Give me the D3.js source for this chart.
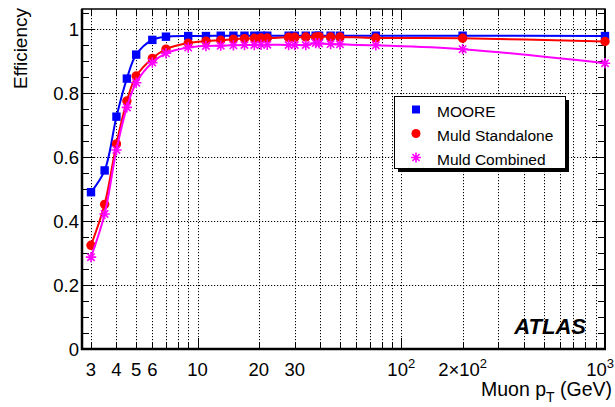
<!DOCTYPE html>
<html><head><meta charset="utf-8">
<script src="https://cdn.jsdelivr.net/npm/d3@7"></script>
<style>body{margin:0;background:#fff;} svg{display:block;font-family:"Liberation Sans",Arial,Helvetica,sans-serif;}</style>
</head><body>
<svg id="c" width="615" height="407"></svg>
<script>
const ptValues = [3, 3.5, 4, 4.5, 5, 6, 7, 9, 11, 13, 15, 17, 19, 20.5, 22, 28, 30, 34, 38, 39.5, 45, 50, 75, 200, 1000];
const mooreEff = [0.490, 0.558, 0.726, 0.845, 0.920, 0.966, 0.976, 0.978, 0.978, 0.979, 0.979, 0.979, 0.979, 0.979, 0.979, 0.979, 0.979, 0.979, 0.979, 0.979, 0.979, 0.979, 0.979, 0.979, 0.978];
const standaloneEff = [0.324, 0.452, 0.641, 0.775, 0.853, 0.908, 0.937, 0.956, 0.962, 0.965, 0.968, 0.970, 0.971, 0.972, 0.972, 0.974, 0.974, 0.975, 0.975, 0.976, 0.975, 0.975, 0.972, 0.971, 0.961];
const combinedEff = [0.287, 0.422, 0.622, 0.755, 0.832, 0.895, 0.924, 0.942, 0.947, 0.948, 0.949, 0.950, 0.950, 0.951, 0.951, 0.950, 0.950, 0.950, 0.956, 0.955, 0.953, 0.952, 0.949, 0.937, 0.893];
const seriesNames = ["MOORE", "Muld Standalone", "Muld Combined"];
const seriesColors = ["#0000ff", "#ff0000", "#ff00ff"];
const seriesMarkers = ["square", "circle", "star"];
const xGridValues = [3,4,5,6,7,8,9,10,20,30,40,50,60,70,80,90,100,200,300,400,500,600,700,800,900,1000];
const xLabelValues = [3,4,5,6,10,20,30,100,200,1000];
const xLabelBase = ["3","4","5","6","10","20","30","10","2\u00d710","10"];
const xLabelSup = ["","","","","","","","2","2","3"];
const yMajorTicks = [0, 0.2, 0.4, 0.6, 0.8, 1.0];
const yLabels = ["0","0.2","0.4","0.6","0.8","1"];

const svg = d3.select("#c");
const L = 82, R = 605, T = 9, B = 349;
const x = d3.scaleLog().domain([2.71, 1000]).range([L, R]);
const y = d3.scaleLinear().domain([0, 1.0625]).range([B, T]);

// grid
const grid = svg.append("g").attr("stroke", "#000").attr("stroke-width", 1).attr("stroke-dasharray", "1.2,1.8").attr("fill","none");
xGridValues.forEach(v => {
  const px = Math.round(x(v)) + 0.5;
  grid.append("line").attr("x1", px).attr("x2", px).attr("y1", T).attr("y2", B);
});
yMajorTicks.filter(v => v > 0).forEach(v => {
  const py = Math.round(y(v)) + 0.5;
  grid.append("line").attr("x1", L).attr("x2", R).attr("y1", py).attr("y2", py);
});

// ticks
const tk = svg.append("g").attr("stroke", "#000").attr("stroke-width", 1);
const yMinor = d3.range(0, 1.0625, 0.05);
yMinor.forEach(v => {
  const major = yMajorTicks.some(m => Math.abs(m - v) < 1e-6);
  const len = major ? 13 : 7;
  const py = Math.round(y(v)) + 0.5;
  tk.append("line").attr("x1", L).attr("x2", L + len).attr("y1", py).attr("y2", py);
  tk.append("line").attr("x1", R).attr("x2", R - len).attr("y1", py).attr("y2", py);
});
xGridValues.forEach(v => {
  const major = [10,100,1000].includes(v);
  const len = major ? 11 : 6;
  const px = Math.round(x(v)) + 0.5;
  tk.append("line").attr("x1", px).attr("x2", px).attr("y1", B).attr("y2", B - len);
  tk.append("line").attr("x1", px).attr("x2", px).attr("y1", T).attr("y2", T + len);
});

// frame
svg.append("rect").attr("x", L).attr("y", T).attr("width", R - L).attr("height", B - T)
  .attr("fill", "none").attr("stroke", "#000").attr("stroke-width", 1.5);
svg.append("line").attr("x1", L).attr("x2", L).attr("y1", T).attr("y2", B+1).attr("stroke","#000").attr("stroke-width",2.5);
svg.append("line").attr("x1", L-1).attr("x2", R+1).attr("y1", B).attr("y2", B).attr("stroke","#000").attr("stroke-width",2.5);
svg.append("line").attr("x1", R).attr("x2", R).attr("y1", T).attr("y2", B).attr("stroke","#000").attr("stroke-width",2);

// y labels
svg.append("g").selectAll("text").data(yMajorTicks).join("text")
  .attr("x", 79).attr("y", d => y(d) + 6.5).attr("text-anchor", "end")
  .attr("font-size", 18.5).attr("fill", "#000").text((d, i) => yLabels[i]);

// x labels
const xl = svg.append("g");
xLabelValues.forEach((v, i) => {
  const last = i === xLabelValues.length - 1;
  const t = xl.append("text").attr("x", last ? 614 : x(v)).attr("y", 376).attr("text-anchor", last ? "end" : "middle")
    .attr("font-size", 18.5).attr("fill", "#000");
  t.append("tspan").text(xLabelBase[i]);
  if (xLabelSup[i]) t.append("tspan").attr("dy", -8).attr("font-size", 13).text(xLabelSup[i]);
});

// axis titles
svg.append("text").attr("transform", "translate(27,8) rotate(-90)").attr("text-anchor", "end")
  .attr("font-size", 19).attr("fill", "#000").text("Efficiency");
const xt = svg.append("text").attr("x", 612).attr("y", 396).attr("text-anchor", "end")
  .attr("font-size", 19.5).attr("fill", "#000");
xt.append("tspan").text("Muon p");
xt.append("tspan").attr("dy", 6).attr("font-size", 14).text("T");
xt.append("tspan").attr("dy", -6).text(" (GeV)");

// marker drawing
function drawMarker(g, type, cx, cy, color, s) {
  if (type === "square") {
    g.append("rect").attr("x", cx - s).attr("y", cy - s).attr("width", 2*s).attr("height", 2*s).attr("fill", color);
  } else if (type === "circle") {
    g.append("circle").attr("cx", cx).attr("cy", cy).attr("r", s + 0.5).attr("fill", color);
  } else {
    const r = s + 1;
    const p = d3.path();
    for (let k = 0; k < 4; k++) {
      const a = k * Math.PI / 4;
      p.moveTo(cx - r*Math.cos(a), cy - r*Math.sin(a));
      p.lineTo(cx + r*Math.cos(a), cy + r*Math.sin(a));
    }
    g.append("path").attr("d", p.toString()).attr("stroke", color).attr("stroke-width", 1.6).attr("fill","none");
  }
}

// series
const allSeries = [mooreEff, standaloneEff, combinedEff];
const line = d3.line().x(d => x(d[0])).y(d => y(d[1])).curve(d3.curveCatmullRom.alpha(0.5));
allSeries.forEach((vals, si) => {
  const pts = ptValues.map((p, i) => [p, vals[i]]);
  const g = svg.append("g");
  g.append("path").attr("d", line(pts)).attr("fill", "none").attr("stroke", seriesColors[si]).attr("stroke-width", 2);
  pts.forEach(d => drawMarker(g, seriesMarkers[si], x(d[0]), y(d[1]), seriesColors[si], 4.2));
});

// ATLAS
svg.append("text").attr("x", 586).attr("y", 334).attr("text-anchor", "end")
  .attr("font-size", 22).attr("font-weight", "bold").attr("font-style", "italic").attr("fill", "#000").text("ATLAS");

// legend
const lg = svg.append("g");
lg.append("rect").attr("x", 398).attr("y", 100).attr("width", 171).attr("height", 72).attr("fill", "#000");
lg.append("rect").attr("x", 394.5).attr("y", 96.5).attr("width", 171).attr("height", 72).attr("fill", "#fff").attr("stroke", "#000").attr("stroke-width", 1);
seriesNames.forEach((n, i) => {
  const cy = 109.5 + i * 24;
  drawMarker(lg, seriesMarkers[i], 416, cy, seriesColors[i], 4);
  lg.append("text").attr("x", 437).attr("y", cy + 7).attr("font-size", 15.5).attr("fill", "#000").text(n);
});
</script>
</body></html>
